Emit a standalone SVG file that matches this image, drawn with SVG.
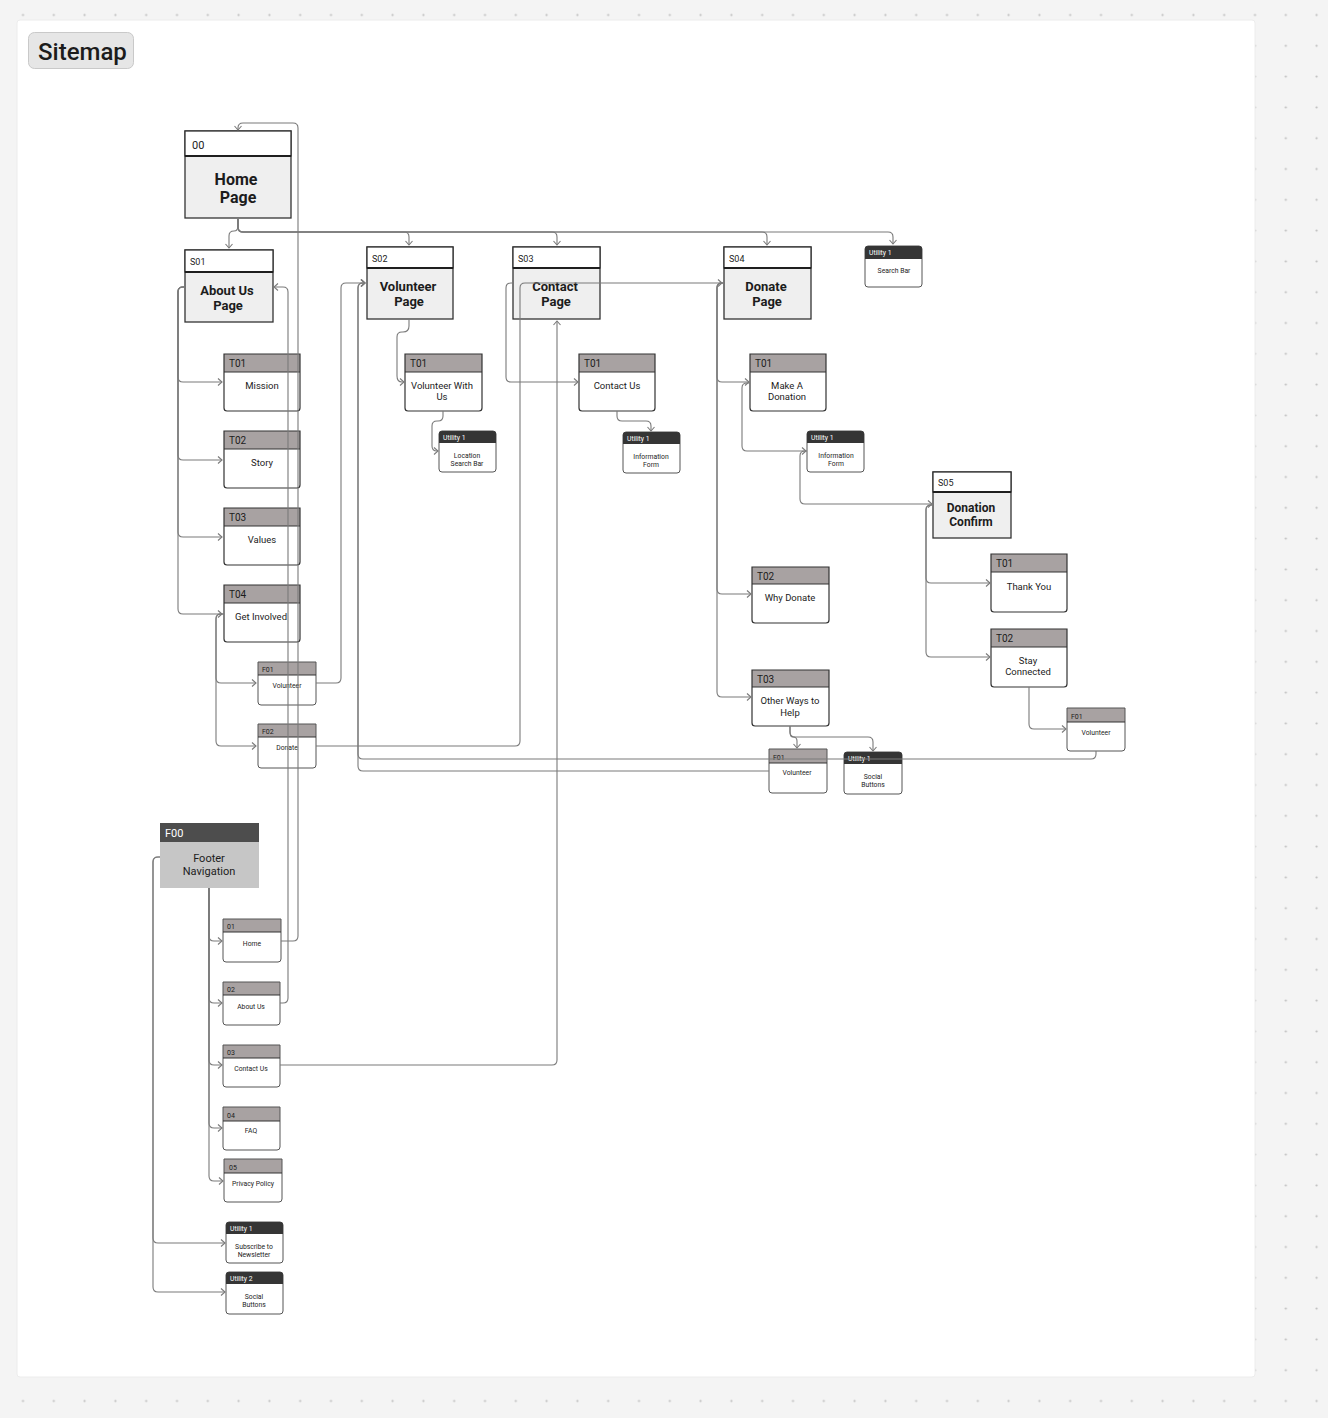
<svg xmlns="http://www.w3.org/2000/svg" width="1328" height="1418" viewBox="0 0 1328 1418">
<defs>
<pattern id="dots" patternUnits="userSpaceOnUse" x="7.6" y="-0.4" width="30.8" height="30.8">
<circle cx="15.4" cy="15.4" r="1.1" fill="#bdbdbd"/>
</pattern>
<marker id="arr" markerUnits="userSpaceOnUse" viewBox="0 0 10 10" refX="6" refY="5" markerWidth="10" markerHeight="10" orient="auto">
<path d="M2,1.5 L6,5 L2,8.5" fill="none" stroke="#7a7a7a" stroke-width="1.1"/>
</marker>
<style>
.t{font-family:Roboto,"Liberation Sans",sans-serif;fill:#1c1c1c}
.pg{fill:#efefef;stroke:#333;stroke-width:1.3}
.pgh{fill:#fff;stroke:#333;stroke-width:1.3}
.sep{stroke:#1e1e1e;stroke-width:1.8}
.tb{fill:#fff;stroke:none}
.to{fill:none;stroke:#333;stroke-width:1.2}
.th{fill:#a8a2a2}
.tsep{stroke:#333;stroke-width:1.1}
.so{fill:none;stroke:#555;stroke-width:1}
.ub{fill:#fff;stroke:#555;stroke-width:1}
.uh{fill:#353535}
.pt{font-size:13px;font-weight:bold;text-anchor:middle}
.pt16{font-size:16px}
.pt12{font-size:12px}
.pid{font-size:9px}
.tid{font-size:10px}
.tt{font-size:9.5px;text-anchor:middle}
.sid{font-size:7px}
.st{font-size:6.8px;text-anchor:middle}
.uid{font-size:6.8px;fill:#fff}
#connectors path{fill:none;stroke:#7a7a7a;stroke-width:1.1;marker-end:url(#arr)}
</style>
</defs>
<rect width="1328" height="1418" fill="#f4f4f4"/>
<rect width="1328" height="1418" fill="url(#dots)"/>
<rect x="17" y="20" width="1238" height="1357" rx="3" fill="#ffffff" stroke="#ececec" stroke-width="1"/>

<g id="title">
<rect x="28.5" y="32.5" width="105" height="36" rx="6" fill="#e6e6e6" stroke="#c9c9c9"/>
<text class="t" x="38" y="59.5" font-size="24" font-weight="500">Sitemap</text>
</g>

<!-- Page nodes -->
<g id="n-home">
<rect class="pg" x="185" y="131" width="106" height="87"/>
<rect class="pgh" x="185" y="131" width="106" height="25"/>
<line class="sep" x1="185" y1="156" x2="291" y2="156"/>
<text class="t" x="192" y="149" font-size="11">00</text>
<text class="t pt pt16" x="236" y="185">Home</text>
<text class="t pt pt16" x="238" y="203">Page</text>
</g>
<g id="n-s01">
<rect class="pg" x="185" y="250" width="88" height="72"/>
<rect class="pgh" x="185" y="250" width="88" height="22"/>
<line class="sep" x1="185" y1="272" x2="273" y2="272"/>
<text class="t pid" x="190" y="265">S01</text>
<text class="t pt" x="227" y="295">About Us</text>
<text class="t pt" x="228" y="310">Page</text>
</g>
<g id="n-s02">
<rect class="pg" x="367" y="247" width="86" height="72"/>
<rect class="pgh" x="367" y="247" width="86" height="21"/>
<line class="sep" x1="367" y1="268" x2="453" y2="268"/>
<text class="t pid" x="372" y="262">S02</text>
<text class="t pt" x="408" y="291">Volunteer</text>
<text class="t pt" x="409" y="306">Page</text>
</g>
<g id="n-s03">
<rect class="pg" x="513" y="247" width="87" height="72"/>
<rect class="pgh" x="513" y="247" width="87" height="21"/>
<line class="sep" x1="513" y1="268" x2="600" y2="268"/>
<text class="t pid" x="518" y="262">S03</text>
<text class="t pt" x="555" y="291">Contact</text>
<text class="t pt" x="556" y="306">Page</text>
</g>
<g id="n-s04">
<rect class="pg" x="724" y="247" width="87" height="72"/>
<rect class="pgh" x="724" y="247" width="87" height="21"/>
<line class="sep" x1="724" y1="268" x2="811" y2="268"/>
<text class="t pid" x="729" y="262">S04</text>
<text class="t pt" x="766" y="291">Donate</text>
<text class="t pt" x="767" y="306">Page</text>
</g>
<g id="n-s05">
<rect class="pg" x="933" y="472" width="78" height="66"/>
<rect class="pgh" x="933" y="472" width="78" height="20"/>
<line class="sep" x1="933" y1="492" x2="1011" y2="492"/>
<text class="t pid" x="938" y="486">S05</text>
<text class="t pt pt12" x="971" y="512">Donation</text>
<text class="t pt pt12" x="971" y="526">Confirm</text>
</g>

<!-- T nodes -->
<g id="n-about-t01">
<path class="tb" d="M224,354 H300 V408 Q300,411 297,411 H227 Q224,411 224,408 Z"/>
<rect class="th" x="224" y="354" width="76" height="18"/>
<path class="to" d="M224,354 H300 V408 Q300,411 297,411 H227 Q224,411 224,408 Z"/>
<line class="tsep" x1="224" y1="372" x2="300" y2="372"/>
<text class="t tid" x="229" y="367">T01</text>
<text class="t tt" x="262" y="389">Mission</text>
</g>
<g id="n-about-t02">
<path class="tb" d="M224,431 H300 V485 Q300,488 297,488 H227 Q224,488 224,485 Z"/>
<rect class="th" x="224" y="431" width="76" height="18"/>
<path class="to" d="M224,431 H300 V485 Q300,488 297,488 H227 Q224,488 224,485 Z"/>
<line class="tsep" x1="224" y1="449" x2="300" y2="449"/>
<text class="t tid" x="229" y="444">T02</text>
<text class="t tt" x="262" y="466">Story</text>
</g>
<g id="n-about-t03">
<path class="tb" d="M224,508 H300 V562 Q300,565 297,565 H227 Q224,565 224,562 Z"/>
<rect class="th" x="224" y="508" width="76" height="18"/>
<path class="to" d="M224,508 H300 V562 Q300,565 297,565 H227 Q224,565 224,562 Z"/>
<line class="tsep" x1="224" y1="526" x2="300" y2="526"/>
<text class="t tid" x="229" y="521">T03</text>
<text class="t tt" x="262" y="543">Values</text>
</g>
<g id="n-about-t04">
<path class="tb" d="M224,585 H300 V639 Q300,642 297,642 H227 Q224,642 224,639 Z"/>
<rect class="th" x="224" y="585" width="76" height="18"/>
<path class="to" d="M224,585 H300 V639 Q300,642 297,642 H227 Q224,642 224,639 Z"/>
<line class="tsep" x1="224" y1="603" x2="300" y2="603"/>
<text class="t tid" x="229" y="598">T04</text>
<text class="t tt" x="261" y="620">Get Involved</text>
</g>
<g id="n-vol-t01">
<path class="tb" d="M405,354 H482 V408 Q482,411 479,411 H408 Q405,411 405,408 Z"/>
<rect class="th" x="405" y="354" width="77" height="18"/>
<path class="to" d="M405,354 H482 V408 Q482,411 479,411 H408 Q405,411 405,408 Z"/>
<line class="tsep" x1="405" y1="372" x2="482" y2="372"/>
<text class="t tid" x="410" y="367">T01</text>
<text class="t tt" x="442" y="389">Volunteer With</text>
<text class="t tt" x="442" y="400">Us</text>
</g>
<g id="n-contact-t01">
<path class="tb" d="M579,354 H655 V408 Q655,411 652,411 H582 Q579,411 579,408 Z"/>
<rect class="th" x="579" y="354" width="76" height="18"/>
<path class="to" d="M579,354 H655 V408 Q655,411 652,411 H582 Q579,411 579,408 Z"/>
<line class="tsep" x1="579" y1="372" x2="655" y2="372"/>
<text class="t tid" x="584" y="367">T01</text>
<text class="t tt" x="617" y="389">Contact Us</text>
</g>
<g id="n-donate-t01">
<path class="tb" d="M750,354 H826 V408 Q826,411 823,411 H753 Q750,411 750,408 Z"/>
<rect class="th" x="750" y="354" width="76" height="18"/>
<path class="to" d="M750,354 H826 V408 Q826,411 823,411 H753 Q750,411 750,408 Z"/>
<line class="tsep" x1="750" y1="372" x2="826" y2="372"/>
<text class="t tid" x="755" y="367">T01</text>
<text class="t tt" x="787" y="389">Make A</text>
<text class="t tt" x="787" y="400">Donation</text>
</g>
<g id="n-donate-t02">
<path class="tb" d="M752,567 H829 V620 Q829,623 826,623 H755 Q752,623 752,620 Z"/>
<rect class="th" x="752" y="567" width="77" height="17"/>
<path class="to" d="M752,567 H829 V620 Q829,623 826,623 H755 Q752,623 752,620 Z"/>
<line class="tsep" x1="752" y1="584" x2="829" y2="584"/>
<text class="t tid" x="757" y="580">T02</text>
<text class="t tt" x="790" y="601">Why Donate</text>
</g>
<g id="n-donate-t03">
<path class="tb" d="M752,670 H829 V723 Q829,726 826,726 H755 Q752,726 752,723 Z"/>
<rect class="th" x="752" y="670" width="77" height="17"/>
<path class="to" d="M752,670 H829 V723 Q829,726 826,726 H755 Q752,726 752,723 Z"/>
<line class="tsep" x1="752" y1="687" x2="829" y2="687"/>
<text class="t tid" x="757" y="683">T03</text>
<text class="t tt" x="790" y="704">Other Ways to</text>
<text class="t tt" x="790" y="716">Help</text>
</g>
<g id="n-confirm-t01">
<path class="tb" d="M991,554 H1067 V609 Q1067,612 1064,612 H994 Q991,612 991,609 Z"/>
<rect class="th" x="991" y="554" width="76" height="18"/>
<path class="to" d="M991,554 H1067 V609 Q1067,612 1064,612 H994 Q991,612 991,609 Z"/>
<line class="tsep" x1="991" y1="572" x2="1067" y2="572"/>
<text class="t tid" x="996" y="567">T01</text>
<text class="t tt" x="1029" y="590">Thank You</text>
</g>
<g id="n-confirm-t02">
<path class="tb" d="M991,629 H1067 V684 Q1067,687 1064,687 H994 Q991,687 991,684 Z"/>
<rect class="th" x="991" y="629" width="76" height="18"/>
<path class="to" d="M991,629 H1067 V684 Q1067,687 1064,687 H994 Q991,687 991,684 Z"/>
<line class="tsep" x1="991" y1="647" x2="1067" y2="647"/>
<text class="t tid" x="996" y="642">T02</text>
<text class="t tt" x="1028" y="664">Stay</text>
<text class="t tt" x="1028" y="675">Connected</text>
</g>

<!-- small F nodes -->
<g id="n-about-f01">
<path class="tb" d="M258,662 H316 V702 Q316,705 313,705 H261 Q258,705 258,702 Z"/>
<rect class="th" x="258" y="662" width="58" height="13"/>
<path class="so" d="M258,662 H316 V702 Q316,705 313,705 H261 Q258,705 258,702 Z"/>
<line class="tsep" x1="258" y1="675" x2="316" y2="675"/>
<text class="t sid" x="262" y="672">F01</text>
<text class="t st" x="287" y="688">Volunteer</text>
</g>
<g id="n-about-f02">
<path class="tb" d="M258,724 H316 V765 Q316,768 313,768 H261 Q258,768 258,765 Z"/>
<rect class="th" x="258" y="724" width="58" height="13"/>
<path class="so" d="M258,724 H316 V765 Q316,768 313,768 H261 Q258,768 258,765 Z"/>
<line class="tsep" x1="258" y1="737" x2="316" y2="737"/>
<text class="t sid" x="262" y="734">F02</text>
<text class="t st" x="287" y="750">Donate</text>
</g>
<g id="n-donate-f01">
<path class="tb" d="M769,749 H827 V790 Q827,793 824,793 H772 Q769,793 769,790 Z"/>
<rect class="th" x="769" y="749" width="58" height="14"/>
<path class="so" d="M769,749 H827 V790 Q827,793 824,793 H772 Q769,793 769,790 Z"/>
<line class="tsep" x1="769" y1="763" x2="827" y2="763"/>
<text class="t sid" x="773" y="760">F01</text>
<text class="t st" x="797" y="775">Volunteer</text>
</g>
<g id="n-confirm-f01">
<path class="tb" d="M1067,708 H1125 V748 Q1125,751 1122,751 H1070 Q1067,751 1067,748 Z"/>
<rect class="th" x="1067" y="708" width="58" height="14"/>
<path class="so" d="M1067,708 H1125 V748 Q1125,751 1122,751 H1070 Q1067,751 1067,748 Z"/>
<line class="tsep" x1="1067" y1="722" x2="1125" y2="722"/>
<text class="t sid" x="1071" y="719">F01</text>
<text class="t st" x="1096" y="735">Volunteer</text>
</g>

<!-- Utility nodes -->
<g id="n-util-search">
<rect class="ub" x="865" y="246" width="57" height="41" rx="3"/>
<path class="uh" d="M865,259 V249 Q865,246 868,246 H919 Q922,246 922,249 V259 Z"/>
<text class="t uid" x="869" y="255">Utility 1</text>
<text class="t st" x="894" y="273">Search Bar</text>
</g>
<g id="n-util-location">
<rect class="ub" x="439" y="431" width="57" height="41" rx="3"/>
<path class="uh" d="M439,443 V434 Q439,431 442,431 H493 Q496,431 496,434 V443 Z"/>
<text class="t uid" x="443" y="440">Utility 1</text>
<text class="t st" x="467" y="458">Location</text>
<text class="t st" x="467" y="466">Search Bar</text>
</g>
<g id="n-util-info-contact">
<rect class="ub" x="623" y="432" width="57" height="41" rx="3"/>
<path class="uh" d="M623,444 V435 Q623,432 626,432 H677 Q680,432 680,435 V444 Z"/>
<text class="t uid" x="627" y="441">Utility 1</text>
<text class="t st" x="651" y="459">Information</text>
<text class="t st" x="651" y="467">Form</text>
</g>
<g id="n-util-info-donate">
<rect class="ub" x="807" y="431" width="57" height="41" rx="3"/>
<path class="uh" d="M807,443 V434 Q807,431 810,431 H861 Q864,431 864,434 V443 Z"/>
<text class="t uid" x="811" y="440">Utility 1</text>
<text class="t st" x="836" y="458">Information</text>
<text class="t st" x="836" y="466">Form</text>
</g>
<g id="n-util-social">
<rect class="ub" x="844" y="752" width="58" height="42" rx="3"/>
<path class="uh" d="M844,764 V755 Q844,752 847,752 H899 Q902,752 902,755 V764 Z"/>
<text class="t uid" x="848" y="761">Utility 1</text>
<text class="t st" x="873" y="779">Social</text>
<text class="t st" x="873" y="787">Buttons</text>
</g>

<!-- Footer -->
<g id="n-footer">
<rect x="160" y="823" width="99" height="65" fill="#c6c6c6"/>
<rect x="160" y="823" width="99" height="19" fill="#4d4d4d"/>
<text class="t" x="165" y="837" font-size="11" style="fill:#ffffff">F00</text>
<text class="t" x="209" y="862" font-size="11" text-anchor="middle">Footer</text>
<text class="t" x="209" y="875" font-size="11" text-anchor="middle">Navigation</text>
</g>
<g id="n-foot-01">
<path class="tb" d="M223,919 H281 V959 Q281,962 278,962 H226 Q223,962 223,959 Z"/>
<rect class="th" x="223" y="919" width="58" height="13"/>
<path class="so" d="M223,919 H281 V959 Q281,962 278,962 H226 Q223,962 223,959 Z"/>
<line class="tsep" x1="223" y1="932" x2="281" y2="932"/>
<text class="t sid" x="227" y="929">01</text>
<text class="t st" x="252" y="946">Home</text>
</g>
<g id="n-foot-02">
<path class="tb" d="M223,982 H280 V1022 Q280,1025 277,1025 H226 Q223,1025 223,1022 Z"/>
<rect class="th" x="223" y="982" width="57" height="13"/>
<path class="so" d="M223,982 H280 V1022 Q280,1025 277,1025 H226 Q223,1025 223,1022 Z"/>
<line class="tsep" x1="223" y1="995" x2="280" y2="995"/>
<text class="t sid" x="227" y="992">02</text>
<text class="t st" x="251" y="1009">About Us</text>
</g>
<g id="n-foot-03">
<path class="tb" d="M223,1045 H280 V1084 Q280,1087 277,1087 H226 Q223,1087 223,1084 Z"/>
<rect class="th" x="223" y="1045" width="57" height="13"/>
<path class="so" d="M223,1045 H280 V1084 Q280,1087 277,1087 H226 Q223,1087 223,1084 Z"/>
<line class="tsep" x1="223" y1="1058" x2="280" y2="1058"/>
<text class="t sid" x="227" y="1055">03</text>
<text class="t st" x="251" y="1071">Contact Us</text>
</g>
<g id="n-foot-04">
<path class="tb" d="M223,1107 H280 V1147 Q280,1150 277,1150 H226 Q223,1150 223,1147 Z"/>
<rect class="th" x="223" y="1107" width="57" height="14"/>
<path class="so" d="M223,1107 H280 V1147 Q280,1150 277,1150 H226 Q223,1150 223,1147 Z"/>
<line class="tsep" x1="223" y1="1121" x2="280" y2="1121"/>
<text class="t sid" x="227" y="1118">04</text>
<text class="t st" x="251" y="1133">FAQ</text>
</g>
<g id="n-foot-05">
<path class="tb" d="M224,1159 H282 V1199 Q282,1202 279,1202 H227 Q224,1202 224,1199 Z"/>
<rect class="th" x="224" y="1159" width="58" height="14"/>
<path class="so" d="M224,1159 H282 V1199 Q282,1202 279,1202 H227 Q224,1202 224,1199 Z"/>
<line class="tsep" x1="224" y1="1173" x2="282" y2="1173"/>
<text class="t sid" x="229" y="1170">05</text>
<text class="t st" x="253" y="1186">Privacy Policy</text>
</g>
<g id="n-foot-util1">
<rect class="ub" x="226" y="1222" width="57" height="41" rx="3"/>
<path class="uh" d="M226,1234 V1225 Q226,1222 229,1222 H280 Q283,1222 283,1225 V1234 Z"/>
<text class="t uid" x="230" y="1231">Utility 1</text>
<text class="t st" x="254" y="1249">Subscribe to</text>
<text class="t st" x="254" y="1257">Newsletter</text>
</g>
<g id="n-foot-util2">
<rect class="ub" x="226" y="1272" width="57" height="42" rx="3"/>
<path class="uh" d="M226,1284 V1275 Q226,1272 229,1272 H280 Q283,1272 283,1275 V1284 Z"/>
<text class="t uid" x="230" y="1281">Utility 2</text>
<text class="t st" x="254" y="1299">Social</text>
<text class="t st" x="254" y="1307">Buttons</text>
</g>

<g id="connectors">
<path d="M238,218 V226 Q238,231 234,231 H234 Q229,231 229,236 V248"/>
<path d="M238,218 V227 Q238,232 243,232 H404 Q409,232 409,237 V245"/>
<path d="M238,218 V227 Q238,232 243,232 H552 Q557,232 557,237 V245"/>
<path d="M238,218 V227 Q238,232 243,232 H762 Q767,232 767,237 V245"/>
<path d="M238,218 V227 Q238,232 243,232 H888 Q893,232 893,237 V244"/>
<path d="M185,287 H183 Q178,287 178,292 V377 Q178,382 183,382 H222"/>
<path d="M185,287 H183 Q178,287 178,292 V455 Q178,460 183,460 H222"/>
<path d="M185,287 H183 Q178,287 178,292 V532 Q178,537 183,537 H222"/>
<path d="M185,287 H183 Q178,287 178,292 V609 Q178,614 183,614 H222"/>
<path d="M224,614 H221 Q216,614 216,619 V678 Q216,683 221,683 H256"/>
<path d="M224,614 H221 Q216,614 216,619 V741 Q216,746 221,746 H256"/>
<path d="M316,683 H336 Q341,683 341,678 V288 Q341,283 346,283 H365"/>
<path d="M316,746 H515 Q520,746 520,741 V288 Q520,283 525,283 H722"/>
<path d="M1096,751 V754 Q1096,759 1091,759 H363 Q358,759 358,754 V288 Q358,283 363,283 H365"/>
<path d="M769,771 H363 Q358,771 358,766 V288 Q358,283 363,283 H365"/>
<path d="M281,941 H293 Q298,941 298,936 V128 Q298,123 293,123 H243 Q238,123 238,128 V130"/>
<path d="M280,1003 H283 Q288,1003 288,998 V292 Q288,287 283,287 H274"/>
<path d="M280,1065 H552 Q557,1065 557,1060 V321"/>
<path d="M409,319 V326 Q409,332 403,332 H402 Q397,332 397,337 V376 Q397,382 402,382 H404"/>
<path d="M443,411 V416 Q443,421 438,421 H437 Q432,421 432,426 V446 Q432,451 437,451 H438"/>
<path d="M513,283 H511 Q506,283 506,288 V377 Q506,382 511,382 H578"/>
<path d="M617,411 V416 Q617,421 622,421 H646 Q651,421 651,426 V431"/>
<path d="M724,283 H722 Q717,283 717,288 V377 Q717,382 722,382 H749"/>
<path d="M724,283 H722 Q717,283 717,288 V589 Q717,594 722,594 H751"/>
<path d="M724,283 H722 Q717,283 717,288 V692 Q717,697 722,697 H751"/>
<path d="M750,383 H747 Q742,383 742,388 V446 Q742,451 747,451 H806"/>
<path d="M807,451 H805 Q800,451 800,456 V499 Q800,504 805,504 H932"/>
<path d="M933,505 H931 Q926,505 926,510 V578 Q926,583 931,583 H990"/>
<path d="M933,505 H931 Q926,505 926,510 V652 Q926,657 931,657 H990"/>
<path d="M1029,687 V724 Q1029,729 1034,729 H1066"/>
<path d="M790,726 V732 Q790,737 793,737 Q797,737 797,741 V748"/>
<path d="M790,726 V732 Q790,737 795,737 H868 Q873,737 873,742 V751"/>
<path d="M209,888 V936 Q209,941 214,941 H222"/>
<path d="M209,888 V998 Q209,1003 214,1003 H222"/>
<path d="M209,888 V1060 Q209,1065 214,1065 H222"/>
<path d="M209,888 V1123 Q209,1128 214,1128 H222"/>
<path d="M209,888 V1176 Q209,1181 214,1181 H223"/>
<path d="M160,857 H158 Q153,857 153,862 V1238 Q153,1243 158,1243 H225"/>
<path d="M160,857 H158 Q153,857 153,862 V1287 Q153,1292 158,1292 H225"/>
</g>
</svg>
